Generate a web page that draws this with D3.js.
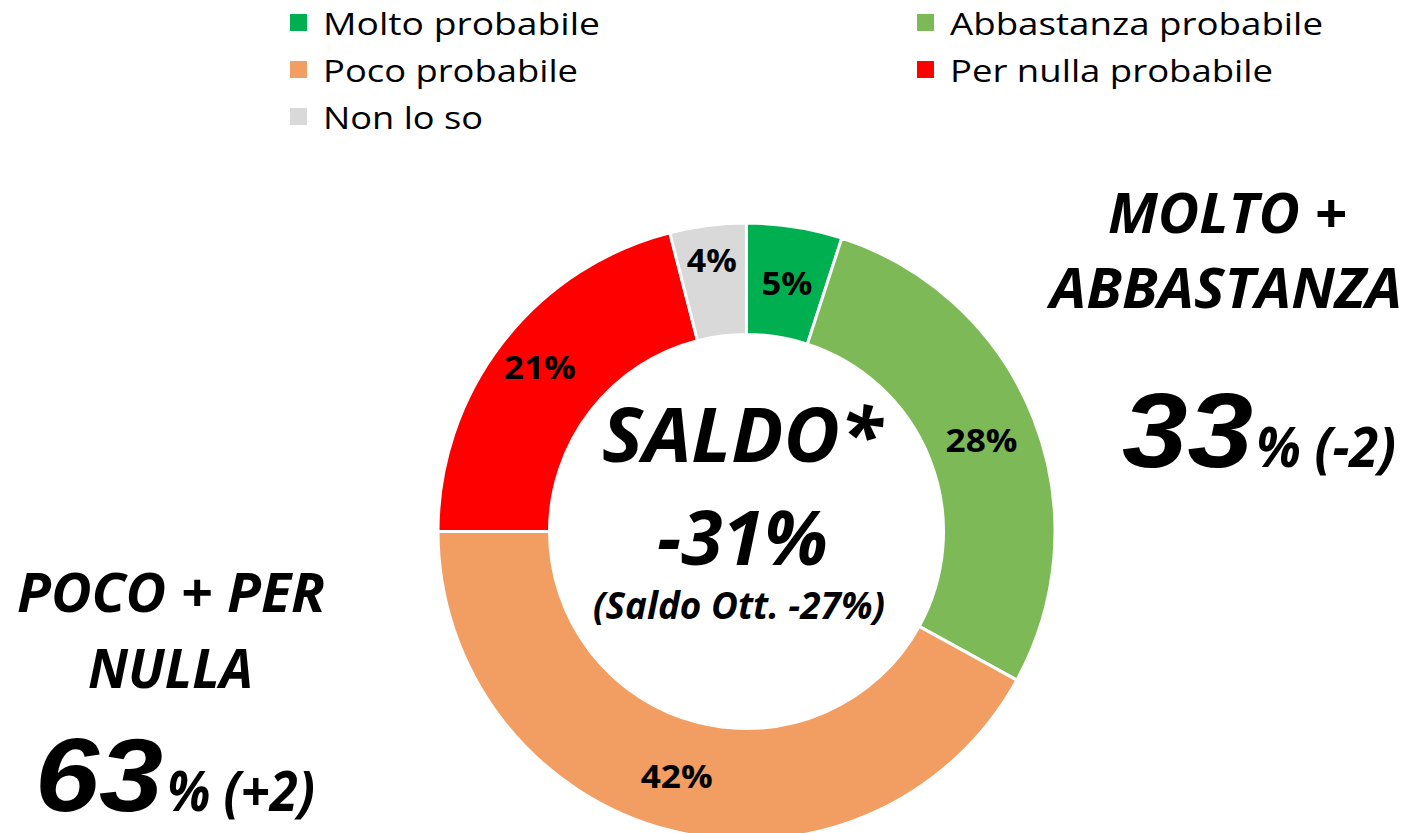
<!DOCTYPE html>
<html>
<head>
<meta charset="utf-8">
<script src="https://cdn.jsdelivr.net/npm/d3@7"></script>
<style>
  html, body { margin: 0; padding: 0; background: #fff; }
  svg { display: block; font-family: "Open Sans", "Noto Sans", sans-serif; }
</style>
</head>
<body>
<svg id="chart" width="1406" height="833"></svg>
<script>
// ---- data ----
const categories = ["Molto probabile", "Abbastanza probabile", "Poco probabile", "Per nulla probabile", "Non lo so"];
const values = [5, 28, 42, 21, 4];
const colors = ["#00B050", "#7DBA57", "#F29D62", "#FF0000", "#D9D9D9"];
const groupTotals = [33, 63];          // Molto+Abbastanza, Poco+Per nulla
const groupChanges = ["(-2)", "(+2)"];
const groupLabels = [["MOLTO +", "ABBASTANZA"], ["POCO + PER", "NULLA"]];
const saldoLines = ["SALDO*", "-31%", "(Saldo Ott. -27%)"];

// ---- helpers ----
const svg = d3.select("#chart");
function txt(parent, s, x, y, opts) {
  const t = parent.append("text")
    .attr("x", x).attr("y", y)
    .attr("text-anchor", opts.anchor || "start")
    .attr("font-size", opts.size)
    .attr("font-weight", opts.weight || "normal")
    .attr("font-style", opts.style || "normal")
    .attr("fill", "#000")
    .text(s);
  if (opts.family) t.attr("font-family", opts.family);
  if (opts.width) t.attr("textLength", opts.width).attr("lengthAdjust", "spacingAndGlyphs");
  return t;
}

// ---- donut ----
const cx = 746.5, cy = 531.5, rOut = 308.5, rIn = 197;
const pie = d3.pie().sort(null).value(d => d)(values);
const arc = d3.arc().innerRadius(rIn).outerRadius(rOut);
const g = svg.append("g").attr("transform", `translate(${cx},${cy})`);
g.selectAll("path").data(pie).join("path")
  .attr("d", arc)
  .attr("fill", (d, i) => colors[i])
  .attr("stroke", "#fff")
  .attr("stroke-width", 3)
  .attr("stroke-linejoin", "miter");

// slice labels (centroid, with small manual nudges as in the reference)
const labelNudge = [[1, 1], [0, 2], [-7, 0], [-7, -10], [-3, -21]];
const labelWidths = [51, 72, 72, 72, 50];
pie.forEach((d, i) => {
  const [x, y] = arc.centroid(d);
  txt(g, values[i] + "%", x + labelNudge[i][0], y + labelNudge[i][1] + 12,
      { anchor: "middle", size: 32, weight: "bold", width: labelWidths[i] });
});

// ---- legend ----
const legendCols = [290, 917];
const legendRows = [35, 82, 129];
const legendTextW = [277, 373, 255, 323, 160];
categories.forEach((c, i) => {
  const col = i % 2, row = Math.floor(i / 2);
  const x = legendCols[col], y = legendRows[row];
  svg.append("rect").attr("x", x).attr("y", y - 21).attr("width", 17).attr("height", 17).attr("fill", colors[i]);
  txt(svg, c, x + 33, y, { size: 31, width: legendTextW[i] });
});

// ---- centre text ----
txt(svg, saldoLines[0], 602, 462, { size: 76, weight: "bold", style: "italic", width: 280 });
txt(svg, saldoLines[1], 657, 565, { size: 76, weight: "bold", style: "italic", width: 171 });
txt(svg, saldoLines[2], 593, 619, { size: 38, weight: "bold", style: "italic", width: 292 });

// ---- right group ----
const bigFamily = "'Liberation Sans', Arial, sans-serif";
txt(svg, groupLabels[0][0], 1108, 233, { size: 56, weight: "bold", style: "italic", width: 239 });
txt(svg, groupLabels[0][1], 1050, 308, { size: 56, weight: "bold", style: "italic", width: 352 });
txt(svg, String(groupTotals[0]), 1122, 467, { size: 106, weight: "bold", style: "italic", width: 131, family: bigFamily });
txt(svg, "% " + groupChanges[0], 1256, 467, { size: 55, weight: "bold", style: "italic", width: 140 });

// ---- left group ----
txt(svg, groupLabels[1][0], 17, 612, { size: 54, weight: "bold", style: "italic", width: 308 });
txt(svg, groupLabels[1][1], 88, 688, { size: 54, weight: "bold", style: "italic", width: 165 });
txt(svg, String(groupTotals[1]), 35, 811, { size: 104, weight: "bold", style: "italic", width: 128, family: bigFamily });
txt(svg, "% " + groupChanges[1], 167, 811, { size: 55, weight: "bold", style: "italic", width: 148 });
</script>
</body>
</html>
